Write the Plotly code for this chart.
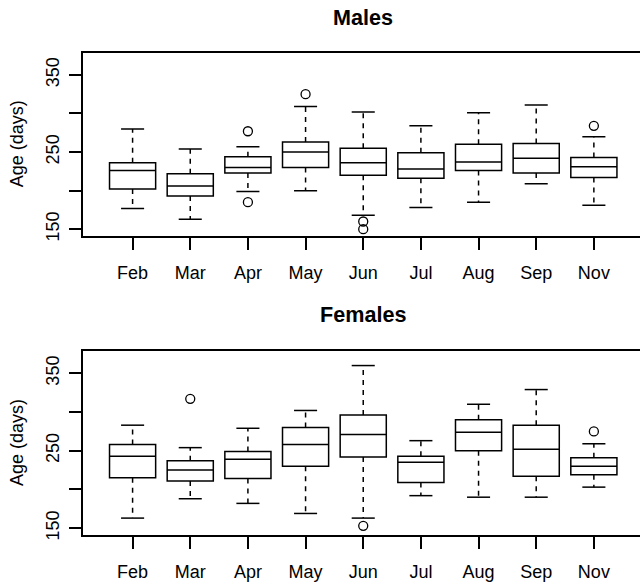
import plotly.graph_objects as go

# Months sampled (x categories)
months = ["Feb", "Mar", "Apr", "May", "Jun", "Jul", "Aug", "Sep", "Nov"]

# Male age summaries (days): whisker ends, quartiles, median
male_lo = [177, 163, 199, 200, 168, 178, 185, 209, 181]
male_q1 = [202, 193, 223, 230, 220, 216, 226, 223, 217]
male_med = [226, 206, 230, 250, 236, 228, 237, 242, 231]
male_q3 = [236, 222, 244, 263, 255, 249, 260, 261, 243]
male_hi = [280, 254, 257, 309, 302, 284, 301, 311, 270]
male_out_month = ["Apr", "Apr", "May", "Jun", "Jun", "Nov"]
male_out_age = [277, 185, 325, 160, 150, 284]

# Female age summaries (days)
fem_lo = [163, 188, 182, 169, 163, 192, 190, 190, 203]
fem_q1 = [215, 211, 214, 230, 242, 209, 250, 217, 219]
fem_med = [243, 225, 239, 258, 271, 235, 274, 252, 230]
fem_q3 = [258, 237, 249, 280, 296, 243, 290, 283, 241]
fem_hi = [283, 254, 279, 302, 360, 263, 310, 329, 259]
fem_out_month = ["Mar", "Jun", "Nov"]
fem_out_age = [317, 153, 275]

y_ticks = [150, 200, 250, 300, 350]
y_tick_text = ["150", "", "250", "", "350"]

FONT = "Liberation Sans, Arial, Helvetica, sans-serif"
LW = 1.5
pos = list(range(1, len(months) + 1))
pos_of = dict(zip(months, pos))

fig = go.Figure()


def add_panel(lo, q1, med, q3, hi, out_m, out_a, xa, ya):
    # boxes (quartiles + median); whiskers drawn separately as dashed lines
    fig.add_trace(go.Box(
        x=pos, q1=q1, median=med, q3=q3, lowerfence=q1, upperfence=q3,
        width=0.8, whiskerwidth=0, boxpoints=False,
        line=dict(color="black", width=LW), fillcolor="rgba(0,0,0,0)",
        xaxis=xa, yaxis=ya, showlegend=False, hoverinfo="skip"))
    wx, wy, cx, cy = [], [], [], []
    for p, a, b, c, d in zip(pos, lo, q1, q3, hi):
        wx += [p, p, None, p, p, None]
        wy += [c, d, None, b, a, None]
        cx += [p - 0.2, p + 0.2, None, p - 0.2, p + 0.2, None]
        cy += [d, d, None, a, a, None]
    fig.add_trace(go.Scatter(x=wx, y=wy, mode="lines",
                             line=dict(color="black", width=LW, dash="5px,5px"),
                             xaxis=xa, yaxis=ya, showlegend=False, hoverinfo="skip"))
    fig.add_trace(go.Scatter(x=cx, y=cy, mode="lines",
                             line=dict(color="black", width=LW),
                             xaxis=xa, yaxis=ya, showlegend=False, hoverinfo="skip"))
    fig.add_trace(go.Scatter(x=[pos_of[m] for m in out_m], y=out_a, mode="markers",
                             marker=dict(symbol="circle-open", size=9, color="black",
                                         line=dict(width=1.3, color="black")),
                             xaxis=xa, yaxis=ya, showlegend=False, hoverinfo="skip"))


add_panel(male_lo, male_q1, male_med, male_q3, male_hi, male_out_month, male_out_age, "x", "y")
add_panel(fem_lo, fem_q1, fem_med, fem_q3, fem_hi, fem_out_month, fem_out_age, "x2", "y2")

xaxis_style = dict(
    range=[0.14, 9.80], tickvals=pos, ticktext=months, ticks="outside",
    ticklen=12, tickwidth=LW, tickcolor="black", showline=True, mirror=True,
    linecolor="black", linewidth=LW, showgrid=False, zeroline=False,
    tickfont=dict(family=FONT, size=18, color="black"), ticklabelstandoff=8,
    automargin=False, fixedrange=True)
yaxis_style = dict(
    range=[141.2, 378.8], tickvals=y_ticks, ticktext=y_tick_text, ticks="outside",
    ticklen=12, tickwidth=LW, tickcolor="black", showline=True, mirror=False,
    linecolor="black", linewidth=LW, showgrid=False, zeroline=False,
    tickangle=-90, tickfont=dict(family=FONT, size=18, color="black"),
    ticklabelstandoff=3, automargin=False, fixedrange=True)

fig.update_layout(
    width=640, height=585,
    margin=dict(l=83, r=0, t=0, b=0),
    paper_bgcolor="white", plot_bgcolor="white",
    xaxis=dict(domain=[0, 1], anchor="y", **xaxis_style),
    yaxis=dict(domain=[0.5966, 0.9099], anchor="x", **yaxis_style),
    xaxis2=dict(domain=[0, 1], anchor="y2", **xaxis_style),
    yaxis2=dict(domain=[0.0855, 0.4], anchor="x2", **yaxis_style),
    annotations=[
        dict(text="<b>Males</b>", xref="x", yref="paper", x=5, y=0.9701,
             xanchor="center", yanchor="middle", showarrow=False,
             font=dict(family=FONT, size=21.6, color="black")),
        dict(text="<b>Females</b>", xref="x2", yref="paper", x=5, y=0.4629,
             xanchor="center", yanchor="middle", showarrow=False,
             font=dict(family=FONT, size=21.6, color="black")),
        dict(text="Age (days)", xref="paper", yref="paper", x=-83 / 557 + 17 / 557,
             y=(0.5966 + 0.9099) / 2, xanchor="center", yanchor="middle",
             textangle=-90, showarrow=False,
             font=dict(family=FONT, size=18, color="black")),
        dict(text="Age (days)", xref="paper", yref="paper", x=-83 / 557 + 17 / 557,
             y=(0.0855 + 0.4) / 2, xanchor="center", yanchor="middle",
             textangle=-90, showarrow=False,
             font=dict(family=FONT, size=18, color="black")),
    ],
)

fig.write_html("out.html")
